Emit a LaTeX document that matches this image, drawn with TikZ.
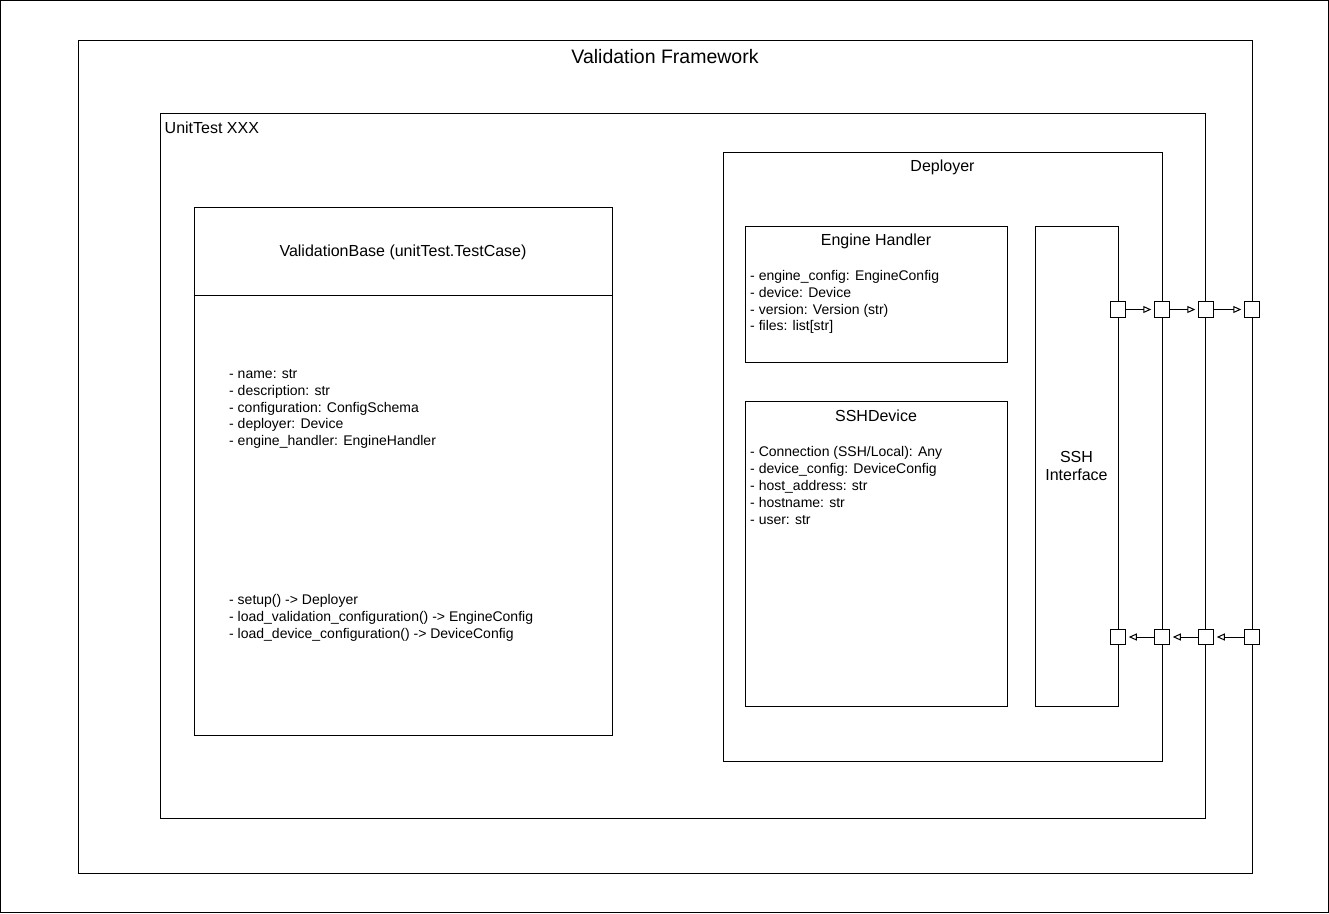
\documentclass[tikz,border=0pt]{standalone}
\usepackage{fontspec}
\setmainfont{Liberation Sans}
\usetikzlibrary{positioning,arrows.meta}

\tikzset{
    box/.style={draw, line width=1pt, inner sep=0pt},
    port/.style={draw, line width=1pt, fill=white, minimum size=15.5pt, inner sep=0pt},
    flow/.style={line width=1pt, -{Triangle[open, length=8pt, width=7pt]}, shorten >=2.5pt},
    bodytext/.style={inner sep=0pt, align=left, font=\fontsize{14}{16.8}\selectfont},
    titletext/.style={inner sep=0pt, font=\fontsize{16}{19}\selectfont}
}

\begin{document}
\begin{tikzpicture}[x=1pt, y=-1pt]
    \useasboundingbox (0, 0) rectangle (1329, 913);
    \node (frame) at (664.5, 456.5) [box, minimum width=1328pt, minimum height=912pt] {};

    % outer boxes
    \node (vf) at (665, 456.5) [box, minimum width=1174pt, minimum height=833pt] {};
    \node (vftitle) [below=10pt of vf.north, inner sep=0pt, font=\fontsize{19.5}{23}\selectfont] {Validation Framework};

    \node (ut) at (682.5, 465.5) [box, minimum width=1045pt, minimum height=705pt] {};
    \node (uttitle) [below right=9pt and 5pt of ut.north west, anchor=north west, titletext] {UnitTest XXX};

    % validation base
    \node (vb) at (403, 471) [box, minimum width=418pt, minimum height=528pt] {};
    \node (vbtitle) at (403, 252) [titletext] {ValidationBase (unitTest.TestCase)};
    \coordinate (vbsplitl) at (194, 295);
    \coordinate (vbsplitr) at (612, 295);
    \draw[line width=1pt] (vbsplitl) -- (vbsplitr);
    \node (vbattr) at (229, 409) [anchor=west, bodytext] {- name: str\\- description: str\\- configuration: ConfigSchema\\- deployer: Device\\- engine\_handler: EngineHandler};
    \node (vbmeth) at (229, 618) [anchor=west, bodytext] {- setup() -> Deployer\\- load\_validation\_configuration() -> EngineConfig\\- load\_device\_configuration() -> DeviceConfig};

    % deployer
    \node (dep) at (942.5, 456.5) [box, minimum width=439pt, minimum height=609pt] {};
    \node (deptitle) at (942.5, 167) [titletext] {Deployer};

    \node (eh) at (876, 294) [box, minimum width=262pt, minimum height=136pt] {};
    \node (ehtitle) at (876, 241) [titletext] {Engine Handler};
    \node (ehattr) at (750, 302) [anchor=west, bodytext] {- engine\_config: EngineConfig\\- device: Device\\- version: Version (str)\\- files: list[str]};

    \node (sshd) at (876, 553.5) [box, minimum width=262pt, minimum height=305pt] {};
    \node (sshdtitle) at (876, 416) [titletext] {SSHDevice};
    \node (sshdattr) at (750, 485.5) [anchor=west, bodytext] {- Connection (SSH/Local): Any\\- device\_config: DeviceConfig\\- host\_address: str\\- hostname: str\\- user: str};

    \node (sshi) at (1076.5, 466) [box, minimum width=83pt, minimum height=480pt, align=center, font=\fontsize{16}{18}\selectfont] {SSH\\Interface};

    % ports
    \node (p1) at (1118, 309.5) [port] {};
    \node (p2) at (1162, 309.5) [port] {};
    \node (p3) at (1206, 309.5) [port] {};
    \node (p4) at (1252, 309.5) [port] {};
    \node (q1) at (1118, 637) [port] {};
    \node (q2) at (1162, 637) [port] {};
    \node (q3) at (1206, 637) [port] {};
    \node (q4) at (1252, 637) [port] {};

    \draw[flow] (p1) -- (p2);
    \draw[flow] (p2) -- (p3);
    \draw[flow] (p3) -- (p4);
    \draw[flow] (q4) -- (q3);
    \draw[flow] (q3) -- (q2);
    \draw[flow] (q2) -- (q1);
\end{tikzpicture}
\end{document}
